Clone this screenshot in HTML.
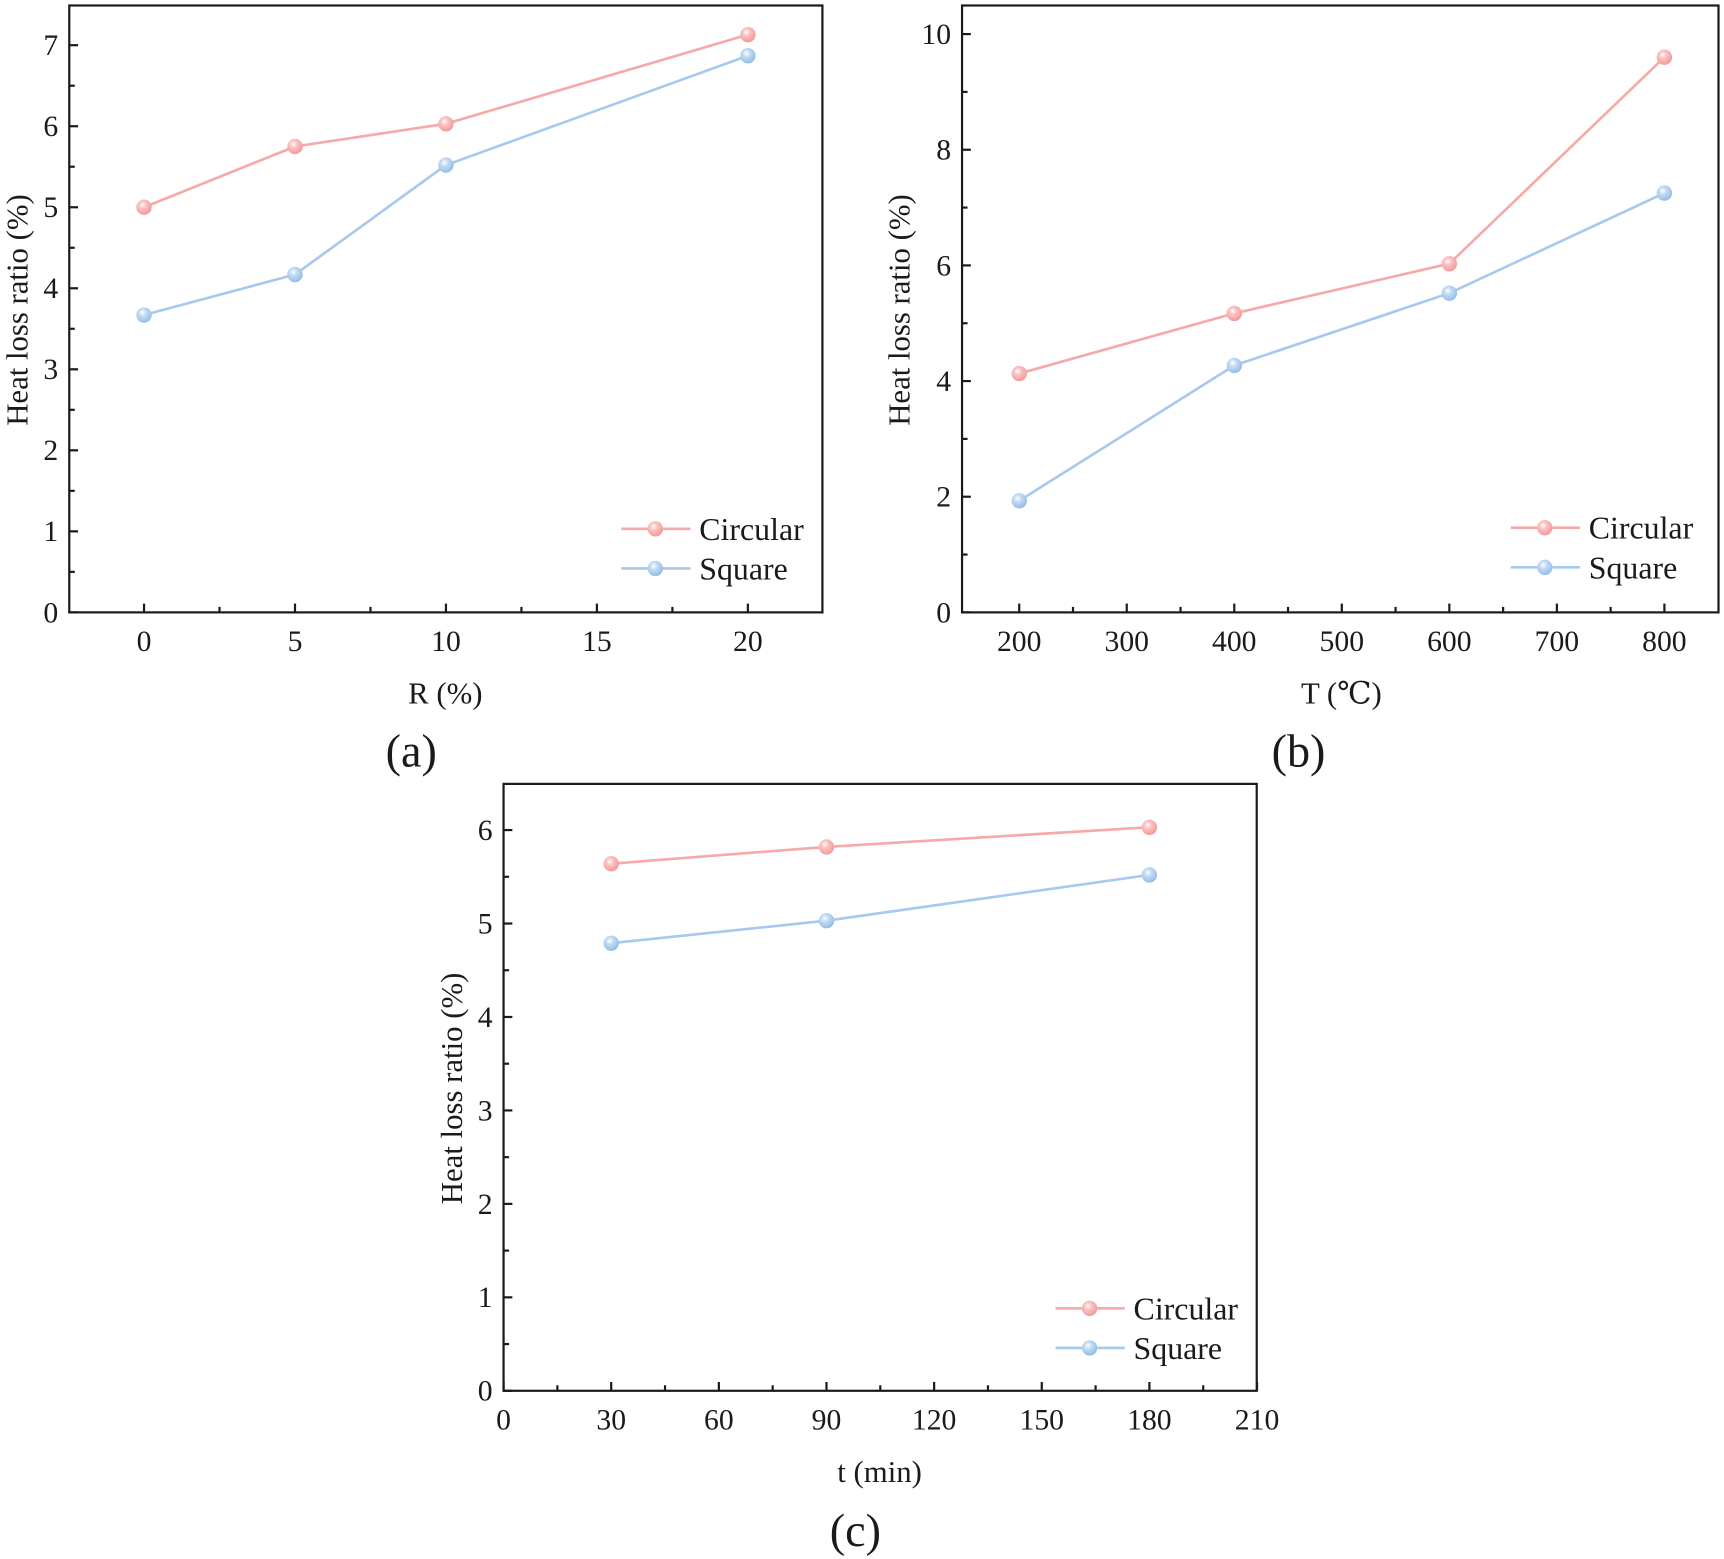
<!DOCTYPE html>
<html><head><meta charset="utf-8"><style>
html,body{margin:0;padding:0;background:#fff;}
svg{display:block;}
text{font-family:"Liberation Serif","DejaVu Serif",serif;fill:#1a1a1a;}
</style></head><body>
<svg id="s" width="1724" height="1559" viewBox="0 0 1568 1418" preserveAspectRatio="none" xmlns="http://www.w3.org/2000/svg">
<defs>
<radialGradient id="gp" cx="0.4" cy="0.35" r="0.65"><stop offset="0" stop-color="#fff"/><stop offset="0.35" stop-color="#fbc3c3"/><stop offset="1" stop-color="#f29a9a"/></radialGradient>
<radialGradient id="gb" cx="0.4" cy="0.35" r="0.65"><stop offset="0" stop-color="#fff"/><stop offset="0.35" stop-color="#c4dcf4"/><stop offset="1" stop-color="#94bde6"/></radialGradient>
</defs>
<g id="g"></g>
</svg>
<script>
var g=document.getElementById('g'),out='';
function L(x1,y1,x2,y2,c,w){out+='<line x1="'+x1+'" y1="'+y1+'" x2="'+x2+'" y2="'+y2+'" stroke="'+c+'" stroke-width="'+w+'"/>';}
function T(x,y,s,fs,a,extra){out+='<text x="'+x+'" y="'+y+'" font-size="'+fs+'" text-anchor="'+(a||'middle')+'" '+(extra||'')+'>'+s+'</text>';}
function M(x,y,f){out+='<circle cx="'+x+'" cy="'+y+'" r="7" fill="url(#'+f+')"/>';}
var PC='#f6a9a9',BC='#a8c9ee';
function panel(p){
  var X=function(v){return p.x0+(v-p.xv0)*p.xs;}, Y=function(v){return p.yb-(v)*p.ys;};
  [[p.c,PC,'gp'],[p.q,BC,'gb']].forEach(function(sr){
    var pts=sr[0].map(function(d){return X(d[0])+','+Y(d[1]);}).join(' ');
    out+='<polyline points="'+pts+'" fill="none" stroke="'+sr[1]+'" stroke-width="2.4"/>';
    sr[0].forEach(function(d){M(X(d[0]),Y(d[1]),sr[2]);});
  });
  out+='<rect x="'+p.l+'" y="'+p.t+'" width="'+(p.r-p.l)+'" height="'+(p.yb-p.t)+'" fill="none" stroke="#1a1a1a" stroke-width="2"/>';
  p.xt.forEach(function(v){var x=X(v);L(x,p.yb,x,p.yb-8,'#1a1a1a',2);T(x,p.yb+35,v,27);});
  p.xm.forEach(function(v){var x=X(v);L(x,p.yb,x,p.yb-5,'#1a1a1a',2);});
  p.yt.forEach(function(v){var y=Y(v);L(p.l,y,p.l+8,y,'#1a1a1a',2);T(p.l-10,y+9,v,27,'end');});
  p.ym.forEach(function(v){var y=Y(v);L(p.l,y,p.l+5,y,'#1a1a1a',2);});
  L(p.lg[0],p.lg[1],p.lg[0]+63,p.lg[1],PC,2.4);M(p.lg[0]+31,p.lg[1],'gp');T(p.lg[0]+71,p.lg[1]+10,'Circular',29,'start');
  L(p.lg[0],p.lg[1]+36,p.lg[0]+63,p.lg[1]+36,BC,2.4);M(p.lg[0]+31,p.lg[1]+36,'gb');T(p.lg[0]+71,p.lg[1]+46,'Square',29,'start');
  T(p.xl[0],p.xl[1],p.xlab,28);
  T(0,0,'Heat loss ratio (%)',28,'middle','transform="translate('+p.yl[0]+','+p.yl[1]+') rotate(-90)"');
  T(p.pl[0],p.pl[1],p.plab,42);
}
function rng(a,b,s){var r=[];for(var v=a;v<=b+1e-9;v+=s)r.push(+v.toFixed(3));return r;}
panel({l:63,r:748,t:5,yb:557,x0:131,xv0:0,xs:137.3/5,ys:73.7,
 c:[[0,5.0],[5,5.75],[10,6.03],[20,7.13]],q:[[0,3.67],[5,4.17],[10,5.52],[20,6.87]],
 xt:[0,5,10,15,20],xm:[2.5,7.5,12.5,17.5],yt:rng(0,7,1),ym:rng(0.5,7,1),
 lg:[565,481],xl:[405,640],yl:[25,282],xlab:'R (%)',pl:[374,697],plab:'(a)'});
panel({l:875,r:1563,t:5,yb:557,x0:927,xv0:200,xs:0.978,ys:52.6,
 c:[[200,4.13],[400,5.17],[600,6.03],[800,9.6]],q:[[200,1.93],[400,4.27],[600,5.52],[800,7.25]],
 xt:[200,300,400,500,600,700,800],xm:[250,350,450,550,650,750],yt:[0,2,4,6,8,10],ym:[1,3,5,7,9],
 lg:[1374,480],xl:[1220,640],yl:[827,282],xlab:'T (℃)',pl:[1181,697],plab:'(b)'});
panel({l:458,r:1143,t:713,yb:1265,x0:458,xv0:0,xs:97.9/30,ys:85,
 c:[[30,5.64],[90,5.82],[180,6.03]],q:[[30,4.79],[90,5.03],[180,5.52]],
 xt:[0,30,60,90,120,150,180,210],xm:[15,45,75,105,135,165,195],yt:rng(0,6,1),ym:rng(0.5,6,1),
 lg:[960,1190],xl:[800,1348],yl:[420,990],xlab:'t (min)',pl:[778,1406],plab:'(c)'});
g.innerHTML=out;
</script>
</body></html>
